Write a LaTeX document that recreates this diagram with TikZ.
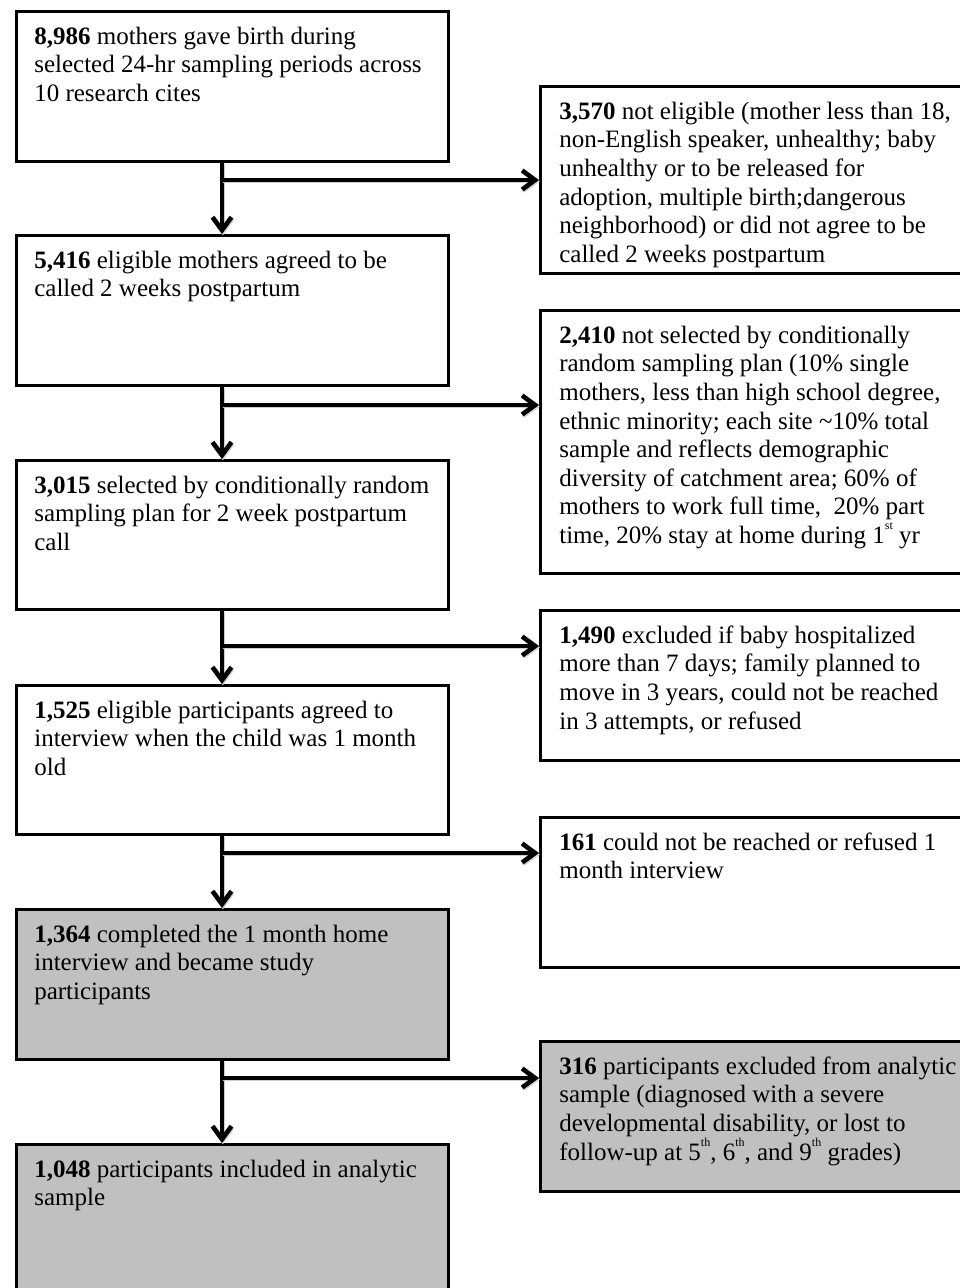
\documentclass[tikz,border=0pt]{standalone}
\usepackage{fontspec}
\setmainfont{Liberation Serif}
\usetikzlibrary{arrows.meta,calc}
\definecolor{boxgray}{RGB}{192,192,192}
\definecolor{shade}{RGB}{205,205,205}
\newcommand{\bxt}[3]{\parbox[c][#2][t]{#1}{\raggedright\rule{0pt}{33pt}#3}}
\newcommand{\sups}[1]{\raisebox{0.55em}{\fontsize{12}{12}\selectfont #1}}
\tikzset{
  fbox/.style={draw=black, line width=2.6pt, inner ysep=0pt, anchor=north west,
    font=\fontsize{25}{28.6}\selectfont},
  lbox/.style={fbox, inner xsep=18pt},
  rbox/.style={fbox, inner xsep=19pt},
  grayfill/.style={fill=boxgray},
  arr/.style={line width=4.6pt, -{Straight Barb[length=13pt,width=19pt]},
    preaction={draw=shade, line width=4pt, -{Straight Barb[length=13pt,width=19pt]},
      transform canvas={shift={(0.8pt,-1.4pt)}}}}
}
\begin{document}
\begin{tikzpicture}[x=1pt,y=-1pt]
\useasboundingbox (0,0) rectangle (960,1288);
\clip (0,0) rectangle (960,1288);
\fill[white] (0,0) rectangle (960,1288);

% left column
\node[lbox] (L1) at (15,10) {\bxt{396pt}{150pt}{\textbf{8,986} mothers gave birth during\\ selected 24-hr sampling periods across\\ 10 research cites}};
\node[lbox] (L2) at (15,234) {\bxt{396pt}{150pt}{\textbf{5,416} eligible mothers agreed to be\\ called 2 weeks postpartum}};
\node[lbox] (L3) at (15,459) {\bxt{396pt}{149pt}{\textbf{3,015} selected by conditionally random\\ sampling plan for 2 week postpartum\\ call}};
\node[lbox] (L4) at (15,684) {\bxt{396pt}{149pt}{\textbf{1,525} eligible participants agreed to\\ interview when the child was 1 month\\ old}};
\node[lbox,grayfill] (L5) at (15,908) {\bxt{396pt}{150pt}{\textbf{1,364} completed the 1 month home\\ interview and became study\\ participants}};
\node[lbox,grayfill] (L6) at (15,1143) {\bxt{396pt}{165pt}{\textbf{1,048} participants included in analytic\\ sample}};

% right column
\node[rbox] (R1) at (539,85) {\bxt{402pt}{187pt}{\textbf{3,570} not eligible (mother less than 18,\\ non-English speaker, unhealthy; baby\\ unhealthy or to be released for\\ adoption, multiple birth;dangerous\\ neighborhood) or did not agree to be\\ called 2 weeks postpartum}};
\node[rbox] (R2) at (539,309) {\bxt{402pt}{263pt}{\textbf{2,410} not selected by conditionally\\ random sampling plan (10\% single\\ mothers, less than high school degree,\\ ethnic minority; each site \textasciitilde10\% total\\ sample and reflects demographic\\ diversity of catchment area; 60\% of\\ mothers to work full time, \ 20\% part\\ time, 20\% stay at home during 1\sups{st} yr}};
\node[rbox] (R3) at (539,609) {\bxt{402pt}{150pt}{\textbf{1,490} excluded if baby hospitalized\\ more than 7 days; family planned to\\ move in 3 years, could not be reached\\ in 3 attempts, or refused}};
\node[rbox] (R4) at (539,816) {\bxt{402pt}{150pt}{\textbf{161} could not be reached or refused 1\\ month interview}};
\node[rbox,grayfill] (R5) at (539,1040) {\bxt{402pt}{150pt}{\textbf{316} participants excluded from analytic\\ sample (diagnosed with a severe\\ developmental disability, or lost to\\ follow-up at 5\sups{th}, 6\sups{th}, and 9\sups{th} grades)}};

% branch points on the spine
\coordinate (spine) at (222,0);
\coordinate (b1) at (222,180);
\coordinate (b2) at (222,405);
\coordinate (b3) at (222,646);
\coordinate (b4) at (222,853);
\coordinate (b5) at (222,1078);

% connectors
\draw[arr] (L1.south -| spine) -- (L2.north -| spine);
\draw[arr] (L2.south -| spine) -- (L3.north -| spine);
\draw[arr] (L3.south -| spine) -- (L4.north -| spine);
\draw[arr] (L4.south -| spine) -- (L5.north -| spine);
\draw[arr] (L5.south -| spine) -- (L6.north -| spine);

\draw[arr] (b1) -- (b1 -| R1.west);
\draw[arr] (b2) -- (b2 -| R2.west);
\draw[arr] (b3) -- (b3 -| R3.west);
\draw[arr] (b4) -- (b4 -| R4.west);
\draw[arr] (b5) -- (b5 -| R5.west);
\end{tikzpicture}
\end{document}
